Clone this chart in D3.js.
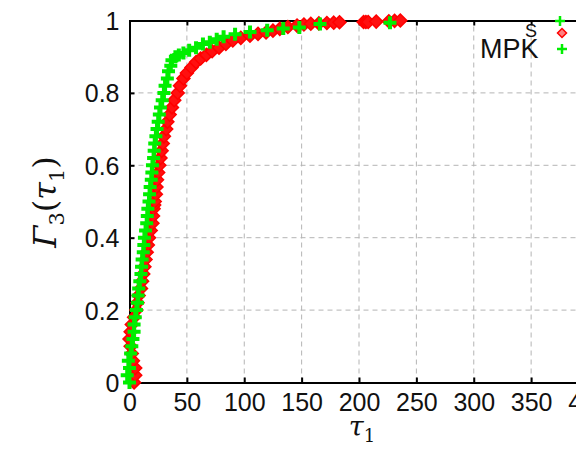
<!DOCTYPE html>
<html>
<head>
<meta charset="utf-8">
<script src="https://cdn.jsdelivr.net/npm/d3@7"></script>
<style>
  body { margin: 0; background: #fff; overflow: hidden; }
  text { font-family: Arial, "Liberation Sans", sans-serif; }
</style>
</head>
<body>
<div id="chart"></div>
<script>
// tick values
const xTicks = [0, 50, 100, 150, 200, 250, 300, 350, 400];
const yTicks = [0, 0.2, 0.4, 0.6, 0.8, 1];

// red series (diamonds): tau values and cumulative fraction
const redTau = [4, 5, 5, 3, 2, 1, 0, 1, 2, 4, 6, 7, 8, 10, 11, 12, 13, 14, 15, 16, 17, 18.5, 20, 20.5, 21,
  21.5, 22, 23, 23.5, 24, 25, 26, 27, 28, 29, 30, 32, 33, 35, 37, 39, 42, 44, 47, 50, 54, 58, 62, 67,
  72, 78, 84, 90, 97, 105, 112, 119, 125, 131, 138, 146, 152, 158, 165, 172, 178, 183, 204, 206, 208,
  215, 226, 231, 236];
const redF = [0, 0.02, 0.04, 0.06, 0.08, 0.1, 0.12, 0.14, 0.16, 0.18, 0.2, 0.22, 0.24, 0.26, 0.28, 0.3,
  0.32, 0.34, 0.36, 0.38, 0.4, 0.42, 0.44, 0.46, 0.48, 0.49, 0.5, 0.52, 0.54, 0.56, 0.58, 0.6, 0.62,
  0.64, 0.66, 0.68, 0.7, 0.72, 0.74, 0.76, 0.78, 0.8, 0.82, 0.84, 0.855, 0.87, 0.885, 0.895, 0.905,
  0.915, 0.925, 0.935, 0.945, 0.952, 0.958, 0.963, 0.967, 0.972, 0.977, 0.982, 0.986, 0.989, 0.991,
  0.992, 0.993, 0.994, 0.995, 0.996, 0.996, 0.996, 0.997, 0.998, 0.999, 1];

// green series (plus signs)
const greenTau = [0, -2, 0, -1, 1, 2, 3, 4, 4, 5, 6, 7, 7.5, 8, 9, 10, 10.5, 11, 12, 12.5, 13, 14, 15,
  15.5, 16, 17, 17.5, 18, 19, 19.5, 20, 21, 21.5, 22, 23, 24, 25, 26, 27, 28.5, 30, 31, 33, 34, 36, 37,
  40, 43, 47, 52, 58, 64, 70, 76, 82, 92, 105, 120, 134, 148, 166, 227];
const greenF = [0, 0.02, 0.04, 0.06, 0.08, 0.1, 0.12, 0.14, 0.16, 0.18, 0.2, 0.22, 0.24, 0.26, 0.28,
  0.3, 0.32, 0.34, 0.36, 0.38, 0.4, 0.42, 0.44, 0.46, 0.48, 0.5, 0.52, 0.54, 0.56, 0.58, 0.6, 0.62,
  0.64, 0.66, 0.68, 0.7, 0.72, 0.74, 0.76, 0.78, 0.8, 0.82, 0.84, 0.86, 0.875, 0.89, 0.9, 0.905, 0.91,
  0.918, 0.925, 0.935, 0.94, 0.948, 0.955, 0.962, 0.968, 0.973, 0.978, 0.981, 0.99, 0.994];

const width = 576, height = 450;
const margin = { left: 129.5, top: 20.5, bottom: 382.5 };

const svg = d3.select("#chart").append("svg")
  .attr("width", width).attr("height", height);

const x = d3.scaleLinear().domain([0, 400]).range([margin.left, margin.left + 459]);
const y = d3.scaleLinear().domain([0, 1]).range([margin.bottom, margin.top]);

// dashed grid
svg.append("g").selectAll("line").data(xTicks.filter(d => d > 0 && d < 400)).enter()
  .append("line")
  .attr("x1", d => x(d)).attr("x2", d => x(d))
  .attr("y1", y(0)).attr("y2", y(1))
  .attr("stroke", "#b4b4b4").attr("stroke-dasharray", "5,4");
svg.append("g").selectAll("line").data(yTicks.filter(d => d > 0 && d < 1)).enter()
  .append("line")
  .attr("x1", x(0)).attr("x2", width)
  .attr("y1", d => y(d)).attr("y2", d => y(d))
  .attr("stroke", "#b4b4b4").attr("stroke-dasharray", "5,4");

// axes
const xAxis = svg.append("g").attr("transform", `translate(0,${y(0)})`)
  .call(d3.axisBottom(x).tickValues(xTicks).tickSize(-5).tickPadding(11).tickFormat(d3.format("d")));
const xTop = svg.append("g").attr("transform", `translate(0,${y(1)})`)
  .call(d3.axisTop(x).tickValues(xTicks).tickSize(-5).tickFormat(""));
const yAxis = svg.append("g").attr("transform", `translate(${x(0)},0)`)
  .call(d3.axisLeft(y).tickValues(yTicks).tickSize(-5).tickPadding(10).tickFormat(d => d));

[xAxis, xTop, yAxis].forEach(g => {
  g.select(".domain").attr("stroke", "#000").attr("stroke-width", 2);
  g.selectAll(".tick line").attr("stroke", "#000").attr("stroke-width", 2);
  g.selectAll("text").attr("fill", "#111").style("font-size", "25px")
    .style("font-family", "Arial, 'Liberation Sans', sans-serif");
});
yAxis.selectAll("text").attr("dy", "0.36em");

// red diamonds
const diamond = "M0,-6.5L6.5,0L0,6.5L-6.5,0Z";
svg.append("g").selectAll("path").data(redTau).enter()
  .append("path")
  .attr("d", diamond)
  .attr("transform", (d, i) => `translate(${x(d)},${y(redF[i])})`)
  .attr("fill", "#ff1010").attr("stroke", "#ff0000").attr("stroke-width", 1.5);

// green plus signs
const plus = "M-6.5,0H6.5M0,-6.5V6.5";
svg.append("g").selectAll("path").data(greenTau).enter()
  .append("path")
  .attr("d", plus)
  .attr("transform", (d, i) => `translate(${x(d)},${y(greenF[i])})`)
  .attr("fill", "none").attr("stroke", "#00ee00").attr("stroke-width", 4);

// legend (clipped at the right edge)
const leg = svg.append("g");
leg.append("text").attr("x", 480).attr("y", 58).style("font-size", "27px").attr("fill", "#111").text("MPK");
leg.append("text").attr("x", 525).attr("y", 37).style("font-size", "18px").attr("fill", "#111").text("S");
const legPlus = "M-5,0H5M0,-5V5";
leg.append("path").attr("d", legPlus).attr("transform", "translate(560,21)")
  .attr("stroke", "#00ee00").attr("stroke-width", 2.5).attr("fill", "none");
leg.append("path").attr("d", "M0,-4.5L4.5,0L0,4.5L-4.5,0Z").attr("transform", "translate(562,33)")
  .attr("fill", "#ff8080").attr("stroke", "#ff0000").attr("stroke-width", 1.5);
leg.append("path").attr("d", legPlus).attr("transform", "translate(562,49)")
  .attr("stroke", "#00ee00").attr("stroke-width", 2.5).attr("fill", "none");

// axis labels
const serif = "'DejaVu Serif', 'Liberation Serif', serif";
const xl = svg.append("text").attr("x", 362).attr("y", 436).attr("text-anchor", "middle")
  .style("font-family", serif).style("font-style", "italic").style("font-size", "27px").attr("fill", "#111");
xl.append("tspan").text("τ");
xl.append("tspan").attr("dy", 6).style("font-size", "18px").style("font-style", "normal").text("1");

const yl = svg.append("text").attr("transform", "translate(56,202) rotate(-90)").attr("text-anchor", "middle")
  .style("font-family", serif).style("font-size", "32px").attr("fill", "#111");
yl.append("tspan").style("font-style", "italic").text("Γ");
yl.append("tspan").attr("dy", 8).style("font-size", "21px").text("3");
yl.append("tspan").attr("dy", -8).text("(");
yl.append("tspan").style("font-style", "italic").text("τ");
yl.append("tspan").attr("dy", 8).style("font-size", "21px").text("1");
yl.append("tspan").attr("dy", -8).text(")");
</script>
</body>
</html>
